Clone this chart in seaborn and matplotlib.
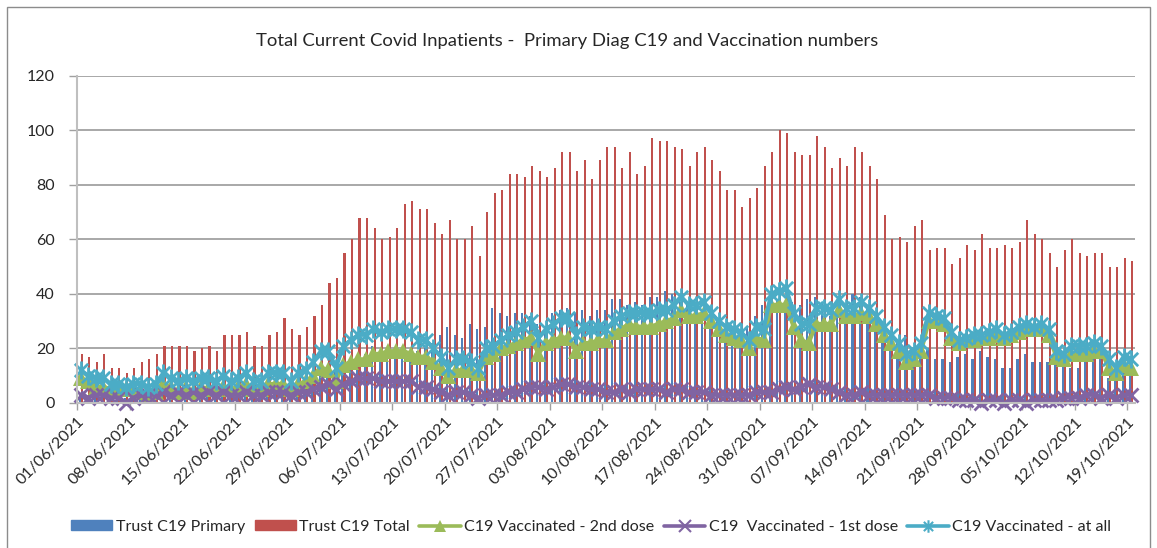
import numpy as np
import pandas as pd
import seaborn as sns
import matplotlib.pyplot as plt
from matplotlib.lines import Line2D
from matplotlib.patches import Patch, Rectangle
from matplotlib.path import Path

sns.set_theme(style="white")
plt.rcParams['font.family'] = ['Lato', 'DejaVu Sans']

dates = pd.date_range('2021-06-01', '2021-10-19', freq='D')

trust_total = [18, 17, 15, 18, 13, 13, 11, 13, 15, 16, 18, 21, 21, 21, 21, 19, 20, 21, 19, 25, 25, 25, 26,
               21, 21, 25, 26, 31, 27, 25, 28, 32, 36, 44, 46, 55, 60, 68, 68, 64, 60, 61, 64, 73, 74, 71, 71,
               66, 62, 67, 60, 60, 65, 54, 70, 77, 78, 84, 84, 83, 87, 85, 83, 86, 92, 92, 85, 89, 82, 89, 94,
               94, 86, 92, 84, 87, 97, 96, 96, 94, 93, 87, 92, 94, 89, 85, 78, 78, 72, 75, 79, 87, 92, 100, 99,
               92, 91, 91, 98, 94, 86, 90, 87, 94, 92, 87, 82, 69, 60, 61, 59, 65, 67, 56, 57, 57, 51, 53, 58,
               56, 62, 57, 57, 58, 57, 59, 67, 62, 60, 55, 50, 56, 60, 55, 54, 55, 55, 50, 50, 53, 52]

trust_primary = [3, 2, 3, 2, 2, 3, 2, 2, 3, 2, 3, 4, 3, 4, 3, 4, 3, 4, 4, 3, 4, 4, 5, 4, 5, 6, 5, 6, 5, 6, 7,
                 9, 10, 11, 12, 13, 14, 16, 18, 21, 19, 18, 17, 17, 18, 19, 20, 22,
                 25, 28, 25, 24, 29, 27, 28, 35, 33, 32, 33, 33, 32, 29, 28, 33, 34, 35, 33, 34, 32, 34, 34,
                 38, 38, 36, 37, 36, 39, 39, 41, 40, 37, 36, 35, 34, 32, 31, 29, 28, 27, 28, 32, 36, 40, 38, 37,
                 37, 36, 38, 39, 37, 32, 31, 36, 40, 39, 35, 30, 28, 23, 22, 25, 19, 22, 20, 16, 16, 15, 17, 18,
                 16, 19, 17, 16, 13, 13, 16, 18, 15, 15, 15, 14, 14, 13, 13, 15, 16, 16, 9, 10, 13, 11]

vacc_2nd = [9, 8, 6, 6, 5, 5, 5, 5, 4, 3, 4, 7, 6, 4, 6, 4, 6, 5, 5, 6, 5, 6, 7,
            5, 5, 7, 7, 7, 5, 7, 8, 10, 13, 12, 8, 14, 15, 16, 16, 18, 18, 19, 19, 19, 18, 17, 17,
            15, 13, 10, 12, 12, 12, 11, 17, 18, 20, 21, 22, 23, 24, 18, 22, 23, 24, 24, 19, 22, 22, 23, 23,
            26, 27, 29, 28, 28, 28, 29, 30, 31, 34, 32, 32, 33, 30, 27, 25, 24, 23, 20, 24, 23, 36, 36, 36,
            28, 23, 22, 29, 29, 29, 34, 32, 32, 33, 32, 29, 25, 22, 19, 15, 16, 19, 30, 30, 29, 24, 22, 23,
            23, 24, 24, 25, 24, 25, 26, 27, 27, 27, 25, 17, 16, 18, 18, 18, 19, 19, 13, 11, 14, 13]

vacc_1st = [3, 2, 3, 3, 2, 2, 0, 2, 3, 3, 3, 4, 3, 4, 3, 4, 3, 4, 3, 4, 3, 3, 4,
            3, 3, 4, 4, 4, 3, 4, 4, 5, 6, 7, 5, 7, 8, 9, 9, 9, 8, 8, 8, 8, 8, 6, 6,
            5, 4, 3, 4, 4, 3, 2, 3, 3, 3, 4, 4, 5, 6, 6, 5, 6, 7, 7, 6, 6, 5, 5, 4,
            4, 5, 4, 5, 5, 5, 5, 4, 5, 5, 4, 4, 4, 3, 3, 3, 3, 3, 3, 4, 4, 4, 5, 6,
            5, 6, 7, 6, 6, 5, 4, 3, 3, 4, 3, 3, 3, 3, 3, 3, 3, 3, 3, 2, 2, 2, 1, 1,
            1, 0, 1, 1, 0, 1, 1, 0, 1, 1, 1, 1, 2, 2, 2, 3, 3, 2, 3, 2, 3, 3]

vacc_any = [12, 10, 9, 9, 7, 7, 6, 7, 7, 6, 7, 11, 9, 8, 9, 8, 9, 9, 8, 10, 8, 9, 11,
            8, 8, 11, 11, 11, 8, 11, 12, 15, 19, 19, 13, 21, 23, 25, 25, 27, 26, 27, 27, 27, 26, 23, 23,
            20, 17, 13, 16, 16, 15, 13, 20, 21, 23, 25, 26, 28, 30, 24, 27, 29, 31, 31, 25, 28, 27, 28, 27,
            30, 32, 33, 33, 33, 33, 34, 34, 36, 39, 36, 36, 37, 33, 30, 28, 27, 26, 23, 28, 27, 40, 41, 42,
            33, 29, 29, 35, 35, 34, 38, 35, 35, 37, 35, 32, 28, 25, 22, 18, 19, 22, 33, 32, 31, 26, 23, 24,
            25, 25, 26, 27, 25, 26, 28, 29, 28, 29, 27, 19, 18, 21, 21, 21, 22, 21, 16, 13, 17, 16]

series_names = ['Trust C19 Primary', 'Trust C19 Total', 'C19 Vaccinated - 2nd dose',
                'C19  Vaccinated - 1st dose', 'C19 Vaccinated - at all']
colors = ['#4F81BD', '#C0504D', '#9BBB59', '#8064A2', '#4BACC6']

day = np.arange(len(dates))
bars = pd.DataFrame({'day': np.concatenate([day, day]),
                     'value': trust_primary + trust_total,
                     'series': [series_names[0]] * len(day) + [series_names[1]] * len(day)})

# excel-style "star" marker: an x with a vertical stroke
star = Path([(-1, -1), (1, 1), (-1, 1), (1, -1), (0, -1.35), (0, 1.35)],
            [Path.MOVETO, Path.LINETO, Path.MOVETO, Path.LINETO, Path.MOVETO, Path.LINETO])

fig = plt.figure(figsize=(11.57, 5.48), dpi=100)
ax = fig.add_axes([77 / 1157, 1 - 403 / 548, (1135 - 77) / 1157, (403 - 75.7) / 548])

sns.barplot(data=bars, x='day', y='value', hue='series', hue_order=series_names[:2],
            palette=colors[:2], width=0.62, gap=0.1, saturation=1, linewidth=0,
            errorbar=None, legend=False, ax=ax)

sns.lineplot(x=day, y=vacc_2nd, color=colors[2], lw=3, marker='^', markersize=12,
             markeredgewidth=0, markerfacecolor=colors[2], clip_on=False, ax=ax)
sns.lineplot(x=day, y=vacc_1st, color=colors[3], lw=3, marker='x', markersize=10,
             markeredgewidth=2, markeredgecolor=colors[3], clip_on=False, ax=ax)
sns.lineplot(x=day, y=vacc_any, color=colors[4], lw=3, marker=star, markersize=13,
             markeredgewidth=2, markeredgecolor=colors[4], clip_on=False, ax=ax)

ax.set_xlim(-0.5, len(day) - 0.5)
ax.set_ylim(0, 120)
ax.set_yticks(range(0, 121, 20))
ax.grid(axis='y', color='#9A9A9A', lw=1.2)
ax.set_axisbelow(True)
ticks = day[::7]
ax.set_xticks(ticks - 0.5)
ax.set_xticklabels([d.strftime('%d/%m/%Y') for d in dates[::7]], rotation=45,
                   ha='right', rotation_mode='anchor', fontsize=11.5)
ax.tick_params(axis='x', length=5, width=1, color='#A0A0A0', pad=3, bottom=True)
ax.tick_params(axis='y', length=6, width=1, color='#A0A0A0', labelsize=11.5, pad=10, left=True)
ax.set_xlabel('')
ax.set_ylabel('')
for s in ['top', 'right']:
    ax.spines[s].set_visible(False)
for s in ['left', 'bottom']:
    ax.spines[s].set_color('#BFBFBF')
    ax.spines[s].set_linewidth(1.5)

fig.text(567 / 1157, 1 - 41 / 548,
         'Total Current Covid Inpatients -  Primary Diag C19 and Vaccination numbers',
         ha='center', va='center', fontsize=13.3)

handles = [Patch(color=colors[0]), Patch(color=colors[1]),
           Line2D([], [], color=colors[2], lw=2.6, marker='^', markersize=9, mew=0),
           Line2D([], [], color=colors[3], lw=2.6, marker='x', markersize=8, mew=1.5),
           Line2D([], [], color=colors[4], lw=2.6, marker=star, markersize=9, mew=1.5)]
fig.legend(handles, series_names, loc='center', bbox_to_anchor=(591 / 1157, 1 - 527 / 548),
           ncol=5, frameon=False, fontsize=11.5, handlelength=2.6, handleheight=0.6,
           columnspacing=0.6, handletextpad=0.2)

fig.add_artist(Rectangle((7 / 1157, -0.01), 1143 / 1157, 1 - 7 / 548 + 0.01,
                         transform=fig.transFigure, fill=False, ec='#8C8C8C', lw=1))

fig.savefig('out.png', dpi=100)
